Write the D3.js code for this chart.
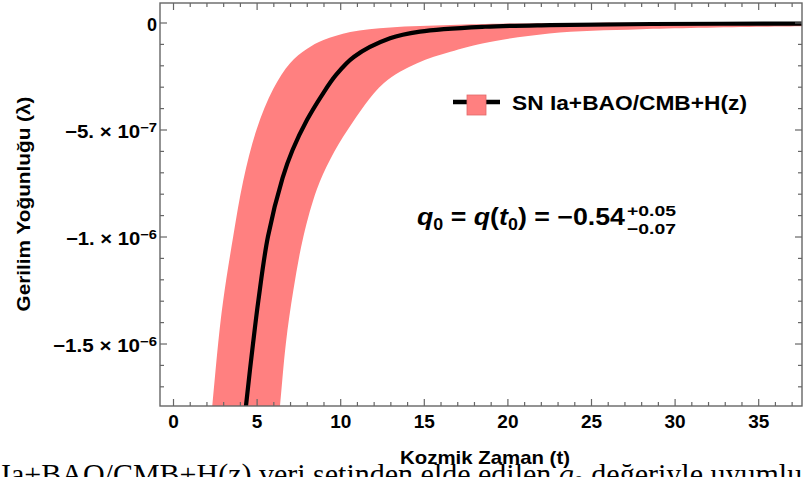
<!DOCTYPE html>
<html>
<head>
<meta charset="utf-8">
<script src="https://cdn.jsdelivr.net/npm/d3@7"></script>
<style>
  body { margin: 0; background: #fff; }
  svg { display: block; }
  .lbl { font-family: "Liberation Sans", Arial, sans-serif; font-weight: bold; fill: #000; }
</style>
</head>
<body>
<script>
// values in units of 1e-6
// black middle curve
var tMid   = [4.25, 4.37, 4.79, 5.11, 5.68, 6.55, 7.15, 8.01, 8.91, 9.75, 10.83, 12.98, 14.77, 18.66, 22.55, 28.6, 38];
var lamMid = [-1.89, -1.787, -1.498, -1.297, -1.00, -0.727, -0.596, -0.456, -0.339, -0.245, -0.160, -0.074, -0.043, -0.020, -0.012, -0.007, -0.005];

// left (upper) edge of the red band
var tUp   = [2.2, 2.35, 2.7, 3.0, 3.6, 4.2, 5.0, 6.0, 7.0, 8.0, 9.0, 10.6, 13, 16.6, 20, 25, 30, 38];
var lamUp = [-1.9, -1.79, -1.50, -1.30, -1.00, -0.74, -0.50, -0.31, -0.19, -0.124, -0.082, -0.044, -0.023, -0.012, -0.005, -0.002, 0, 0.002];

// right (lower) edge of the red band
var tLow   = [6.25, 6.4, 6.75, 7.2, 7.8, 8.6, 9.4, 10.5, 12.6, 14.6, 16.6, 18.5, 22.5, 28, 38];
var lamLow = [-1.9, -1.79, -1.50, -1.25, -1.00, -0.78, -0.64, -0.495, -0.284, -0.19, -0.137, -0.098, -0.051, -0.031, -0.017];

// ticks
var xMajor = [0, 5, 10, 15, 20, 25, 30, 35];
var yMajor = [0, -0.5, -1.0, -1.5];
var yMant  = ["0", "\u22125.", "\u22121.", "\u22121.5"];
var yExp   = ["", "\u22127", "\u22126", "\u22126"];
var yLabelWidth = [0, 92, 91, 104];

var legendLabel = "SN Ia+BAO/CMB+H(z)";
var xTitle = "Kozmik Zaman (t)";
var yTitle = "Gerilim Yo\u011funlu\u011fu (\u03bb)";

var W = 805, H = 477;
var pLeft = 160, pRight = 802, pTop = 3, pBottom = 406;
var frameCol = "#666";
var bandCol = "#ff8080";

var svg = d3.select("body").append("svg")
    .attr("width", W)
    .attr("height", H);

var x = d3.scaleLinear().domain([-0.778, 37.62]).range([pLeft, pRight]);
var y = d3.scaleLinear().domain([-1.792, 0.0911]).range([pBottom, pTop]);

svg.append("clipPath").attr("id", "plotClip")
  .append("rect")
    .attr("x", pLeft).attr("y", pTop)
    .attr("width", pRight - pLeft).attr("height", pBottom - pTop);

var plot = svg.append("g").attr("clip-path", "url(#plotClip)");

var lineGen = d3.line()
    .x(function(d) { return x(d[0]); })
    .y(function(d) { return y(d[1]); })
    .curve(d3.curveCatmullRom.alpha(0.5));

// band: upper edge forward, lower edge back
var upPts = d3.zip(tUp, lamUp);
var lowPts = d3.zip(tLow, lamLow).reverse();
var bandPath = lineGen(upPts) + lineGen(lowPts).replace(/^M/, "L") + "Z";

plot.append("path")
    .attr("d", bandPath)
    .attr("fill", bandCol);

plot.append("path")
    .attr("d", lineGen(d3.zip(tMid, lamMid)))
    .attr("fill", "none")
    .attr("stroke", "#000")
    .attr("stroke-width", 4.2);

// legend
var leg = svg.append("g");
leg.append("line")
    .attr("x1", 453).attr("x2", 500)
    .attr("y1", 102).attr("y2", 102)
    .attr("stroke", "#000").attr("stroke-width", 4.5);
leg.append("rect")
    .attr("x", 467).attr("y", 95)
    .attr("width", 19).attr("height", 20)
    .attr("fill", bandCol)
    .attr("stroke", "#e06a6a").attr("stroke-width", 0.8);
leg.append("text")
    .attr("class", "lbl")
    .attr("x", 512).attr("y", 110)
    .attr("font-size", 20)
    .attr("textLength", 235)
    .attr("lengthAdjust", "spacingAndGlyphs")
    .text(legendLabel);

// annotation q0
svg.append("rect")
    .attr("x", 412).attr("y", 197)
    .attr("width", 266).attr("height", 44)
    .attr("fill", "#fff");

var ann = svg.append("text")
    .attr("class", "lbl")
    .attr("x", 417).attr("y", 225)
    .attr("font-size", 24)
    .attr("textLength", 208)
    .attr("lengthAdjust", "spacingAndGlyphs");
ann.append("tspan").attr("font-style", "italic").text("q");
ann.append("tspan").attr("font-size", 16).attr("dy", 5).text("0");
ann.append("tspan").attr("dy", -5).text(" = ");
ann.append("tspan").attr("font-style", "italic").text("q");
ann.append("tspan").text("(");
ann.append("tspan").attr("font-style", "italic").text("t");
ann.append("tspan").attr("font-size", 16).attr("dy", 5).text("0");
ann.append("tspan").attr("dy", -5).text(")");
ann.append("tspan").text(" = \u22120.54");

svg.append("text")
    .attr("class", "lbl")
    .attr("x", 627).attr("y", 216)
    .attr("font-size", 15)
    .attr("textLength", 49)
    .attr("lengthAdjust", "spacingAndGlyphs")
    .text("+0.05");
svg.append("text")
    .attr("class", "lbl")
    .attr("x", 627).attr("y", 234)
    .attr("font-size", 15)
    .attr("textLength", 49)
    .attr("lengthAdjust", "spacingAndGlyphs")
    .text("\u22120.07");

// frame and ticks
function styleTicks(g) {
  g.select(".domain").remove();
  g.selectAll(".tick line").attr("stroke", frameCol).attr("stroke-width", 1.2);
  g.attr("font-family", null).attr("font-size", null);
}

var xMinor = d3.range(0, 38).filter(function(v) { return v % 5 !== 0; });
var yMinor = d3.range(-17, 1).map(function(v) { return v / 10; })
    .filter(function(v) { return yMajor.indexOf(v) < 0; });

// bottom
var gxb = svg.append("g").attr("transform", "translate(0," + pBottom + ")")
    .call(d3.axisBottom(x).tickValues(xMajor).tickSizeInner(-7).tickSizeOuter(0)
      .tickPadding(9).tickFormat(d3.format("d")))
    .call(styleTicks);
gxb.selectAll(".tick text").attr("class", "lbl").attr("font-size", 19);
svg.append("g").attr("transform", "translate(0," + pBottom + ")")
    .call(d3.axisBottom(x).tickValues(xMinor).tickSizeInner(-4).tickSizeOuter(0).tickFormat(""))
    .call(styleTicks);

// top
svg.append("g").attr("transform", "translate(0," + pTop + ")")
    .call(d3.axisTop(x).tickValues(xMajor).tickSizeInner(-7).tickSizeOuter(0).tickFormat(""))
    .call(styleTicks);
svg.append("g").attr("transform", "translate(0," + pTop + ")")
    .call(d3.axisTop(x).tickValues(xMinor).tickSizeInner(-4).tickSizeOuter(0).tickFormat(""))
    .call(styleTicks);

// left
var gyl = svg.append("g").attr("transform", "translate(" + pLeft + ",0)")
    .call(d3.axisLeft(y).tickValues(yMajor).tickSizeInner(-7).tickSizeOuter(0).tickPadding(3))
    .call(styleTicks);
gyl.selectAll(".tick text").each(function(d, i) {
  var t = d3.select(this).text("")
      .attr("class", "lbl")
      .attr("font-size", 18)
      .attr("dy", "0.42em");
  t.append("tspan").text(yMant[i]);
  if (yExp[i]) {
    t.append("tspan").text(" \u00d7 10");
    t.append("tspan").attr("font-size", 13).attr("dy", -6).text(yExp[i]);
    t.attr("textLength", yLabelWidth[i]).attr("lengthAdjust", "spacingAndGlyphs");
  }
});
svg.append("g").attr("transform", "translate(" + pLeft + ",0)")
    .call(d3.axisLeft(y).tickValues(yMinor).tickSizeInner(-4).tickSizeOuter(0).tickFormat(""))
    .call(styleTicks);

// right
svg.append("g").attr("transform", "translate(" + pRight + ",0)")
    .call(d3.axisRight(y).tickValues(yMajor).tickSizeInner(-7).tickSizeOuter(0).tickFormat(""))
    .call(styleTicks);
svg.append("g").attr("transform", "translate(" + pRight + ",0)")
    .call(d3.axisRight(y).tickValues(yMinor).tickSizeInner(-4).tickSizeOuter(0).tickFormat(""))
    .call(styleTicks);

svg.append("rect")
    .attr("x", pLeft).attr("y", pTop)
    .attr("width", pRight - pLeft).attr("height", pBottom - pTop)
    .attr("fill", "none")
    .attr("stroke", frameCol)
    .attr("stroke-width", 1.4);

// axis titles
svg.append("text")
    .attr("class", "lbl")
    .attr("x", 485).attr("y", 464)
    .attr("text-anchor", "middle")
    .attr("font-size", 19)
    .attr("textLength", 170)
    .attr("lengthAdjust", "spacingAndGlyphs")
    .text(xTitle);

svg.append("text")
    .attr("class", "lbl")
    .attr("transform", "translate(30,204) rotate(-90)")
    .attr("text-anchor", "middle")
    .attr("font-size", 19)
    .attr("textLength", 215)
    .attr("lengthAdjust", "spacingAndGlyphs")
    .text(yTitle);

// caption line of the page, cut by the bottom edge
var cap = svg.append("text")
    .attr("x", 1).attr("y", 484)
    .attr("font-family", "'Liberation Serif', 'Times New Roman', serif")
    .attr("font-size", 30)
    .attr("fill", "#000");
cap.append("tspan").text("Ia+BAO/CMB+H(z) veri setinden elde edilen ");
cap.append("tspan").attr("font-style", "italic").text("q");
cap.append("tspan").attr("font-size", 20).attr("dy", 6).text("0");
cap.append("tspan").attr("dy", -6).text(" de\u011feriyle uyumlu");
</script>
</body>
</html>
